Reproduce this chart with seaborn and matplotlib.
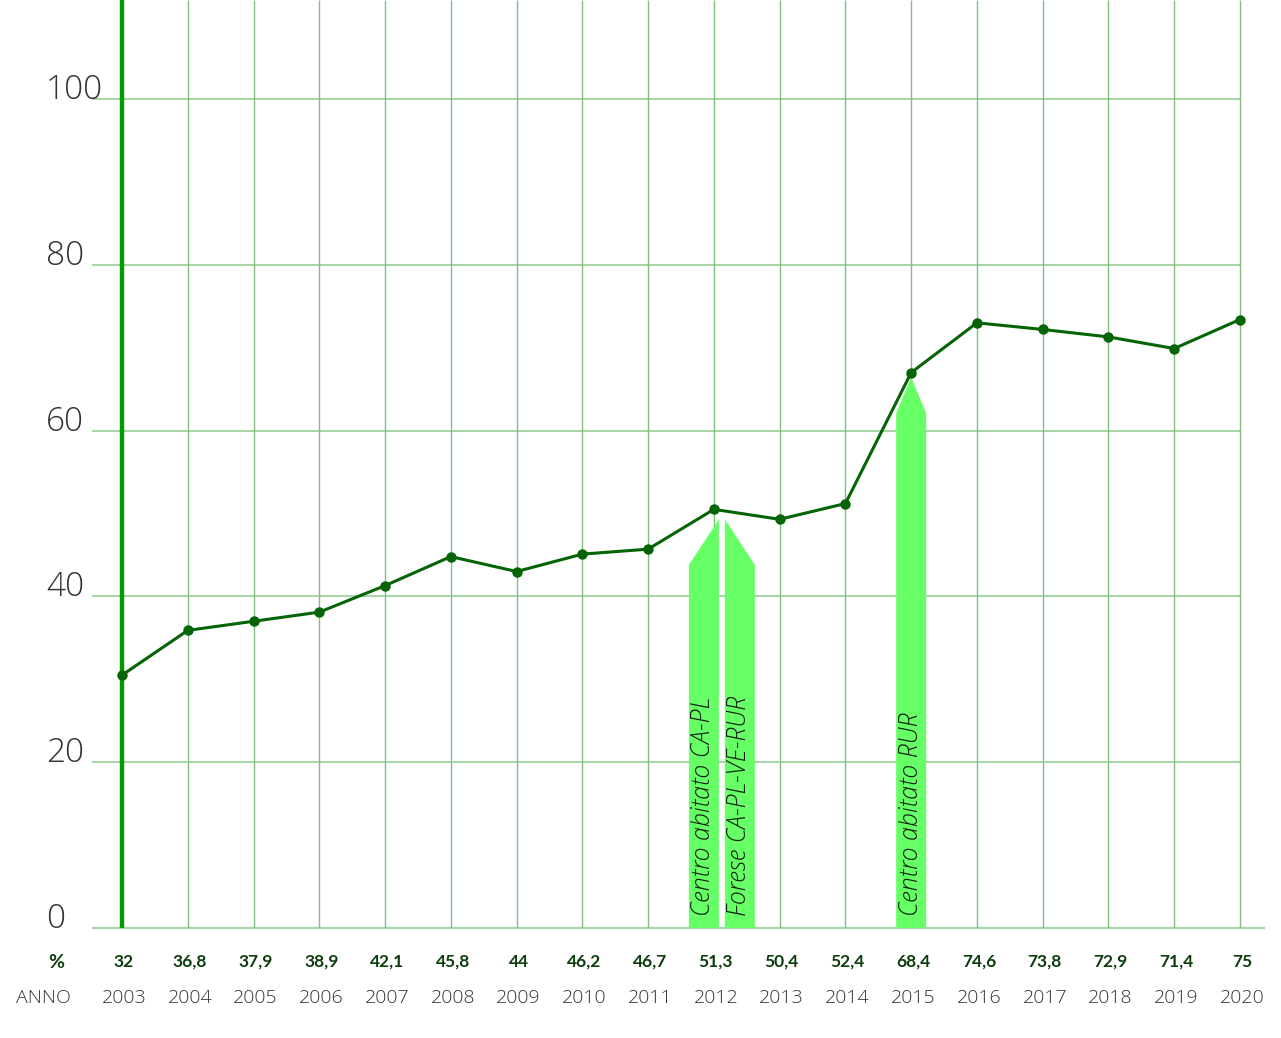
import matplotlib
matplotlib.use("Agg")
import matplotlib.pyplot as plt
import matplotlib.transforms as mtransforms
import seaborn as sns

# data
years = [2003, 2004, 2005, 2006, 2007, 2008, 2009, 2010, 2011,
         2012, 2013, 2014, 2015, 2016, 2017, 2018, 2019, 2020]
values = [30.5, 35.9, 37.0, 38.1, 41.3, 44.8, 43.0, 45.1, 45.7,
          50.5, 49.3, 51.2, 67.0, 73.0, 72.2, 71.3, 69.9, 73.4]
pct_labels = ["32", "36,8", "37,9", "38,9", "42,1", "45,8", "44", "46,2", "46,7",
              "51,3", "50,4", "52,4", "68,4", "74,6", "73,8", "72,9", "71,4", "75"]
y_ticks = [0, 20, 40, 60, 80, 100]
events = ["Centro abitato CA-PL", "Forese CA-PL-VE-RUR", "Centro abitato RUR"]

sns.set_theme(style="white")
plt.rcParams['font.family'] = ['Open Sans', 'DejaVu Sans']
LIGHT = dict(family=['Open Sans', 'DejaVu Sans'], weight=300)

W, H = 1281, 1038
fig = plt.figure(figsize=(W / 100, H / 100), dpi=100)
ax = fig.add_axes([92 / W, 110 / H, (1265 - 92) / W, 928 / H])
px_year = 65.76
x0, x1 = 2003 - 30 / px_year, 2020 + 25 / px_year
ymax = 928 / 8.29
ax.set_xlim(x0, x1)
ax.set_ylim(0, ymax)
ax.axis("off")

# grid
for v in y_ticks[1:]:
    ax.hlines(v, x0, 2020, color="#a5d6a5", lw=1.4, zorder=1)
ax.hlines(0, x0, x1, color="#a5d6a5", lw=1.6, zorder=1, clip_on=False)
ax.vlines(years[1:], 0, ymax, color="#80bf80", lw=1.0, zorder=1)
ax.vlines(years[0], 0, ymax, color="#009a00", lw=3.2, zorder=3)

# arrows marking the events
w = 30 / px_year
gap = 6 / px_year
sh, tip = 43.8, 49.3
l1 = 2012 + 5 / px_year - w
ax.fill([l1, l1 + w, l1 + w, l1], [0, 0, tip, sh], color="#66ff66", lw=0, zorder=2)
l2 = l1 + w + gap
ax.fill([l2, l2 + w, l2 + w, l2], [0, 0, sh, tip], color="#66ff66", lw=0, zorder=2)
l3 = 2015 - w / 2
ax.fill([l3, l3 + w, l3 + w, 2015, l3], [0, 0, 62.1, 66.4, 62.1],
        color="#66ff66", lw=0, zorder=2)
for xc, txt in zip([l1 + w / 2, l2 + w / 2, 2015], events):
    ax.text(xc, 1.5, txt, rotation=90, ha="center", va="bottom", fontsize=18,
            style="italic", color="#102010", zorder=4, **LIGHT)

# line
sns.lineplot(x=years, y=values, ax=ax, color="#056405", lw=2.2, marker="o",
             markersize=7.5, markeredgewidth=0, zorder=5)

# y labels
tr_y = mtransforms.blended_transform_factory(fig.transFigure, ax.transData)
for v in y_ticks:
    ax.text(46 / W, v, str(v), transform=tr_y, ha="left", va="baseline",
            fontsize=24, color="#333333", **LIGHT)

# bottom rows
tr_x = mtransforms.blended_transform_factory(ax.transData, fig.transFigure)
y_pct = 1 - 962 / H
y_year = 1 - 998 / H
fig.text(56 / W, y_pct, "%", ha="center", va="center", fontsize=14,
         weight="bold", color="#0b3d0b", family=['Lato', 'DejaVu Sans'])
fig.text(43 / W, y_year, "ANNO", ha="center", va="center", fontsize=14,
         color="#333333", **LIGHT)
for yr, lab in zip(years, pct_labels):
    ax.text(yr + 2 / px_year, y_pct, lab, transform=tr_x, ha="center", va="center",
            fontsize=12.5, weight="bold", color="#0b3d0b", family=['Lato', 'DejaVu Sans'])
    ax.text(yr + 2 / px_year, y_year, str(yr), transform=tr_x, ha="center", va="center",
            fontsize=14, color="#333333", **LIGHT)

fig.savefig("out.png", dpi=100, facecolor="white")
